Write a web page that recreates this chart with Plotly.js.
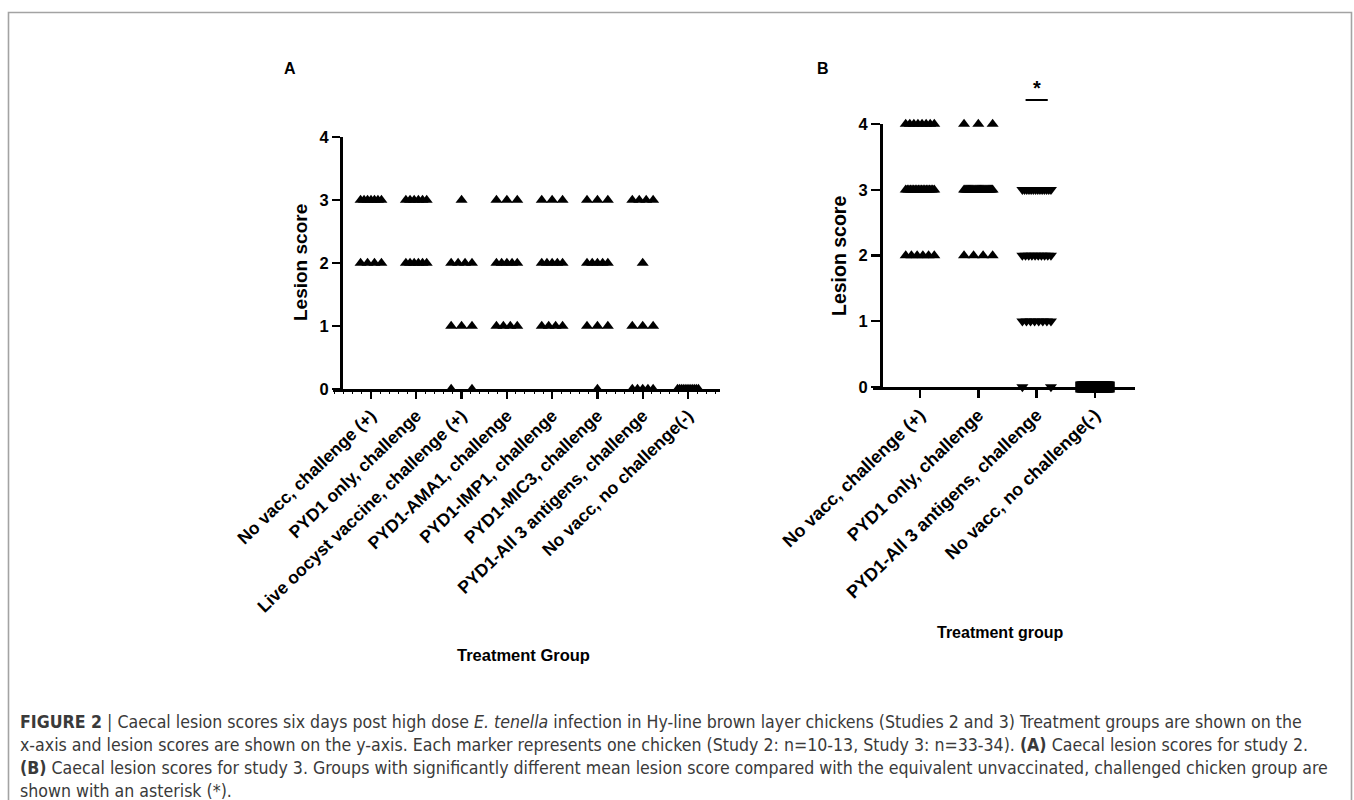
<!DOCTYPE html>
<html>
<head>
<meta charset="utf-8">
<script src="https://cdn.plot.ly/plotly-3.0.1.min.js"></script>
<style>
  html, body { margin: 0; padding: 0; background: #fff; }
  #chart { width: 1354px; height: 800px; }
</style>
</head>
<body>
<div id="chart"></div>
<script>
// ---------------- DATA ----------------
// Study 2 (panel A): treatment groups
const groupsA = [
  "No vacc, challenge (+)",
  "PYD1 only, challenge",
  "Live oocyst vaccine, challenge (+)",
  "PYD1-AMA1, challenge",
  "PYD1-IMP1, challenge",
  "PYD1-MIC3, challenge",
  "PYD1-All 3 antigens, challenge",
  "No vacc, no challenge(-)"
];
// number of chickens with each lesion score, per group (panel A)
const countsA_score0 = [0, 0, 2, 0, 0, 1, 5, 11];
const countsA_score1 = [0, 0, 3, 4, 4, 3, 3, 0];
const countsA_score2 = [4, 6, 4, 5, 5, 5, 1, 0];
const countsA_score3 = [7, 6, 1, 3, 3, 3, 4, 0];
const countsA_score4 = [0, 0, 0, 0, 0, 0, 0, 0];

// Study 3 (panel B): treatment groups
const groupsB = [
  "No vacc, challenge (+)",
  "PYD1 only, challenge",
  "PYD1-All 3 antigens, challenge",
  "No vacc, no challenge(-)"
];
const countsB_score0 = [0, 0, 2, 33];
const countsB_score1 = [0, 0, 8, 0];
const countsB_score2 = [6, 4, 10, 0];
const countsB_score3 = [19, 27, 14, 0];
const countsB_score4 = [8, 3, 0, 0];
const symbolsB = ["triangle-up", "triangle-up", "triangle-down", "square"];

const yTicks = [0, 1, 2, 3, 4];
const significantB = ["", "", "*", ""];

// ---------------- LAYOUT HELPERS ----------------
const W = 1354, H = 800;
const fx = x => x / W;
const fy = y => 1 - y / H;
const FONT = "Liberation Sans, Arial, Helvetica, sans-serif";
const CAPFONT = "DejaVu Sans Condensed, sans-serif";

function buildPoints(countsByScore, nGroups, halfSpread) {
  const pts = [];
  for (let g = 0; g < nGroups; g++) {
    const xs = [], ys = [];
    countsByScore.forEach((counts, score) => {
      const n = counts[g];
      for (let i = 0; i < n; i++) {
        const off = n === 1 ? 0 : -halfSpread + 2 * halfSpread * i / (n - 1);
        xs.push(g + off);
        ys.push(score);
      }
    });
    pts.push({ x: xs, y: ys });
  }
  return pts;
}

const ptsA = buildPoints([countsA_score0, countsA_score1, countsA_score2, countsA_score3, countsA_score4], groupsA.length, 0.23);
const ptsB = buildPoints([countsB_score0, countsB_score1, countsB_score2, countsB_score3, countsB_score4], groupsB.length, 0.245);

const traces = [];
ptsA.forEach((p, g) => {
  traces.push({
    type: "scatter", mode: "markers", x: p.x, y: p.y, xaxis: "x", yaxis: "y",
    cliponaxis: false, hoverinfo: "skip", showlegend: false,
    marker: { symbol: "triangle-up", size: 10.5, color: "#000", line: { width: 0 } }
  });
});
ptsB.forEach((p, g) => {
  const sym = symbolsB[g];
  traces.push({
    type: "scatter", mode: "markers", x: p.x, y: p.y, xaxis: "x2", yaxis: "y2",
    cliponaxis: false, hoverinfo: "skip", showlegend: false,
    marker: { symbol: sym, size: sym === "square" ? 11 : 10.5, color: "#000", line: { width: 0 } }
  });
});

// ---------------- AXES ----------------
const axisCommon = {
  showgrid: false, zeroline: false, showline: true, linecolor: "#000", linewidth: 2.6,
  ticks: "outside", tickcolor: "#000", tickwidth: 2.4, fixedrange: true
};

// Panel A geometry (pixels): categories 0..7 at x 371..688; y 0..4 at 389..137
const aX0 = 371, aDx = (688 - 371) / 7;
const aLeft = 333, aRight = 720;
const aYtop = 137, aYbot = 389;
// Panel B geometry: categories 0..3 at x 920..1095; y 0..4 at 387..124
const bX0 = 920, bDx = (1095 - 920) / 3;
const bLeft = 873, bRight = 1135;
const bYtop = 124, bYbot = 387;

function ann(text, x, y, size, extra) {
  return Object.assign({
    text: text, xref: "paper", yref: "paper", x: fx(x), y: fy(y),
    xanchor: "center", yanchor: "middle", showarrow: false,
    font: { family: FONT, size: size, color: "#000" }
  }, extra || {});
}

const captionLines = [
  "<b>FIGURE 2</b> | Caecal lesion scores six days post high dose <i>E. tenella</i> infection in Hy-line brown layer chickens (Studies 2 and 3) Treatment groups are shown on the",
  "x-axis and lesion scores are shown on the y-axis. Each marker represents one chicken (Study 2: n=10-13, Study 3: n=33-34). <b>(A)</b> Caecal lesion scores for study 2.",
  "<b>(B)</b> Caecal lesion scores for study 3. Groups with significantly different mean lesion score compared with the equivalent unvaccinated, challenged chicken group are",
  "shown with an asterisk (*)."
];

const layout = {
  width: W, height: H,
  margin: { l: 0, r: 0, t: 0, b: 0 },
  paper_bgcolor: "#fff", plot_bgcolor: "rgba(0,0,0,0)",
  font: { family: FONT, color: "#000" },
  xaxis: Object.assign({}, axisCommon, {
    domain: [fx(aLeft), fx(aRight)],
    range: [(aLeft - aX0) / aDx, (aRight - aX0) / aDx],
    anchor: "y",
    tickmode: "array", tickvals: groupsA.map((_, i) => i), ticktext: groupsA,
    tickangle: -44, ticklen: 7,
    tickfont: { family: FONT, size: 17.5, color: "#000", weight: 700 },
    minor: { ticks: "outside", ticklen: 2.5, tickwidth: 1, tickcolor: "#000", tickmode: "linear", tick0: 0, dtick: 0.2 }
  }),
  yaxis: Object.assign({}, axisCommon, {
    domain: [fy(aYbot), fy(aYtop)],
    range: [0, 4],
    anchor: "free", position: fx(341),
    tickmode: "array", tickvals: yTicks, ticktext: yTicks.map(String),
    ticklen: 8,
    tickfont: { family: FONT, size: 16.5, color: "#000", weight: 700 }
  }),
  xaxis2: Object.assign({}, axisCommon, {
    domain: [fx(bLeft), fx(bRight)],
    range: [(bLeft - bX0) / bDx, (bRight - bX0) / bDx],
    anchor: "y2",
    tickmode: "array", tickvals: groupsB.map((_, i) => i), ticktext: groupsB,
    tickangle: -44, ticklen: 8,
    tickfont: { family: FONT, size: 18, color: "#000", weight: 700 }
  }),
  yaxis2: Object.assign({}, axisCommon, {
    domain: [fy(bYbot), fy(bYtop)],
    range: [0, 4],
    anchor: "free", position: fx(881),
    tickmode: "array", tickvals: yTicks, ticktext: yTicks.map(String),
    ticklen: 9,
    tickfont: { family: FONT, size: 16.5, color: "#000", weight: 700 }
  }),
  shapes: [
    // outer figure frame (left, top, right)
    { type: "path", xref: "paper", yref: "paper",
      path: `M ${fx(8.5)} ${fy(812)} L ${fx(8.5)} ${fy(12.5)} L ${fx(1351.5)} ${fy(12.5)} L ${fx(1351.5)} ${fy(812)}`,
      line: { color: "#a3a3a3", width: 1.6 } },
    // significance bar above group
    ...significantB.map((s, i) => s ? {
      type: "line", xref: "x2", yref: "paper",
      x0: i - 0.19, x1: i + 0.19, y0: fy(100), y1: fy(100),
      line: { color: "#000", width: 2 }
    } : null).filter(Boolean)
  ],
  annotations: [
    ann("<b>A</b>", 290, 69, 16),
    ann("<b>B</b>", 823, 69, 16),
    ann("<b>Lesion score</b>", 300, 263, 19, { textangle: -90 }),
    ann("<b>Lesion score</b>", 839, 256, 19.5, { textangle: -90 }),
    ann("<b>Treatment Group</b>", 523, 655, 16.5),
    ann("<b>Treatment group</b>", 1000, 632, 16),
    ...significantB.map((s, i) => s ? {
      text: "<b>" + s + "</b>", xref: "x2", yref: "paper", x: i, y: fy(88),
      xanchor: "center", yanchor: "middle",
      showarrow: false, font: { family: FONT, size: 20, color: "#000" }
    } : null).filter(Boolean),
    // caption
    ...captionLines.map((t, i) => ann(t, 18, 722 + i * 22.9, 17.6, {
      xanchor: "left", font: { family: CAPFONT, size: 17.6, color: "#3a3a3a" }
    }))
  ]
};

Plotly.newPlot("chart", traces, layout, { staticPlot: true, displayModeBar: false });
</script>
</body>
</html>
